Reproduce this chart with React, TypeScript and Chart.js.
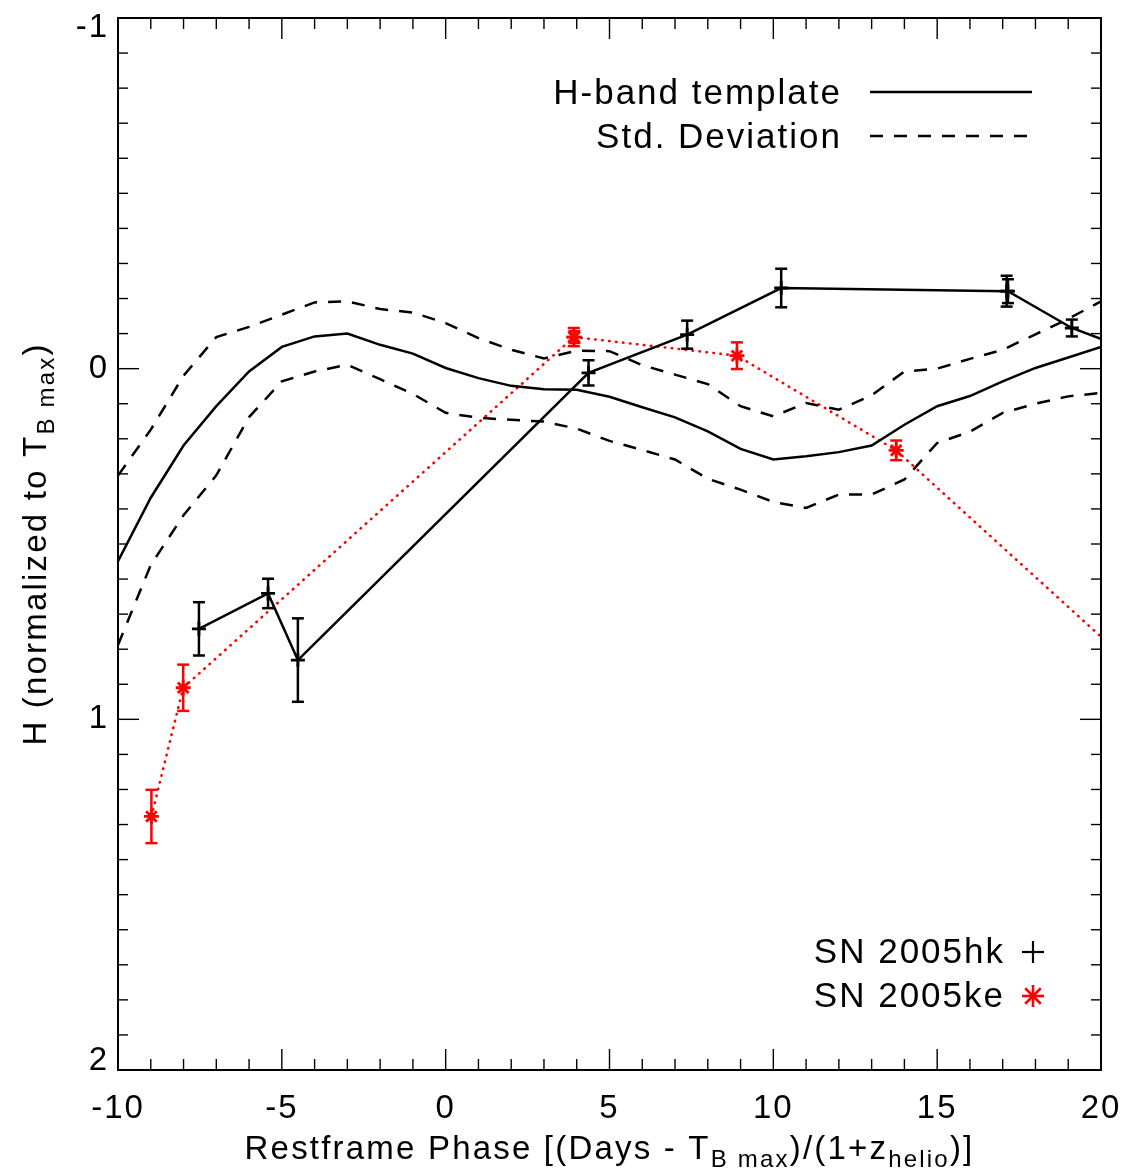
import React, { useEffect, useRef } from 'react';
import { Chart, registerables } from 'chart.js';

Chart.register(...registerables);

// ---------- data ----------
const templatePhase = [-10, -9, -8, -7, -6, -5, -4, -3, -2, -1, 0, 1, 2, 3, 4, 5, 6, 7, 8, 9, 10, 11, 12, 13, 14, 15, 16, 17, 18, 19, 20];
const templateH = [0.549, 0.368, 0.219, 0.107, 0.008, -0.062, -0.092, -0.1, -0.068, -0.043, -0.002, 0.027, 0.049, 0.059, 0.06, 0.08, 0.11, 0.139, 0.179, 0.229, 0.259, 0.25, 0.238, 0.219, 0.16, 0.107, 0.078, 0.036, -0.002, -0.032, -0.062];
const stdUpperH = [0.305, 0.174, 0.02, -0.09, -0.119, -0.154, -0.189, -0.192, -0.17, -0.16, -0.13, -0.087, -0.054, -0.029, -0.051, -0.05, -0.01, 0.017, 0.044, 0.107, 0.136, 0.098, 0.117, 0.076, 0.008, 0.0, -0.028, -0.054, -0.098, -0.142, -0.192];
const stdLowerH = [0.788, 0.56, 0.418, 0.304, 0.138, 0.036, 0.008, -0.011, 0.03, 0.072, 0.126, 0.14, 0.146, 0.151, 0.171, 0.206, 0.232, 0.259, 0.314, 0.345, 0.38, 0.397, 0.359, 0.359, 0.316, 0.212, 0.18, 0.126, 0.1, 0.079, 0.069];

const hkPhase = [-7.53, -5.42, -4.51, 4.36, 7.37, 10.24, 17.12, 17.16, 19.11, 21.2];
const hkH = [0.742, 0.641, 0.831, 0.012, -0.097, -0.23, -0.221, -0.221, -0.116, -0.043];
const hkErr = [0.076, 0.042, 0.119, 0.036, 0.04, 0.055, 0.044, 0.034, 0.024, 0.03];

const kePhase = [-8.98, -8.01, 3.91, 3.93, 8.89, 13.75, 21.5];
const keH = [1.277, 0.91, -0.09, -0.09, -0.037, 0.233, 0.892];
const keErr = [0.076, 0.066, 0.026, 0.017, 0.038, 0.028, 0.03];

const xTickValues = [-10, -5, 0, 5, 10, 15, 20];
const xTickLabels = ['-10', '-5', '0', '5', '10', '15', '20'];
const yTickValues = [-1, 0, 1, 2];
const yTickLabels = ['-1', '0', '1', '2'];
const xMinorStep = 1;
const yMinorStep = 0.1;

const legendTop = ['H-band template', 'Std. Deviation'];
const legendBottom = ['SN 2005hk', 'SN 2005ke'];

// ---------- styles ----------
const FAMILY = '"Liberation Sans", Arial, Helvetica, sans-serif';
const RED = '#ff0000';
const W = 1125;
const H = 1173;

const font = (size: number) => `${size}px ${FAMILY}`;

type Part = { text: string; sub?: boolean };

function drawRich(ctx: CanvasRenderingContext2D, parts: Part[], cx: number, cy: number, rotate: boolean) {
  ctx.save();
  ctx.translate(cx, cy);
  if (rotate) ctx.rotate(-Math.PI / 2);
  (ctx as any).letterSpacing = '2.2px';
  ctx.textBaseline = 'alphabetic';
  ctx.textAlign = 'left';
  ctx.fillStyle = '#000';
  const widths = parts.map((p) => {
    ctx.font = font(p.sub ? 24 : 33);
    return ctx.measureText(p.text).width;
  });
  const total = widths.reduce((a, b) => a + b, 0);
  let x = -total / 2;
  parts.forEach((p, i) => {
    ctx.font = font(p.sub ? 24 : 33);
    ctx.fillText(p.text, x, p.sub ? 8 : 0);
    x += widths[i];
  });
  ctx.restore();
}

function line(ctx: CanvasRenderingContext2D, x1: number, y1: number, x2: number, y2: number) {
  ctx.beginPath();
  ctx.moveTo(x1, y1);
  ctx.lineTo(x2, y2);
  ctx.stroke();
}

const decorPlugin = {
  id: 'decor',
  beforeDraw(chart: any) {
    (chart.ctx as any).letterSpacing = '2px';
  },
  afterDatasetsDraw(chart: any) {
    const ctx: CanvasRenderingContext2D = chart.ctx;
    const xs = chart.scales.x;
    const ys = chart.scales.y;
    const { left, right, top, bottom } = chart.chartArea;
    ctx.save();
    ctx.beginPath();
    ctx.rect(left, top, right - left, bottom - top);
    ctx.clip();
    ctx.lineWidth = 2.5;
    ctx.lineCap = 'butt';
    const bars = (px: number[], py: number[], pe: number[], color: string) => {
      ctx.strokeStyle = color;
      px.forEach((x, i) => {
        if (x < xs.min || x > xs.max) return;
        const cx = xs.getPixelForValue(x);
        const y1 = ys.getPixelForValue(py[i] - pe[i]);
        const y2 = ys.getPixelForValue(py[i] + pe[i]);
        line(ctx, cx, y1, cx, y2);
        line(ctx, cx - 6, y1, cx + 6, y1);
        line(ctx, cx - 6, y2, cx + 6, y2);
      });
    };
    bars(hkPhase, hkH, hkErr, '#000');
    bars(kePhase, keH, keErr, RED);
    ctx.restore();
  },
  afterDraw(chart: any) {
    const ctx: CanvasRenderingContext2D = chart.ctx;
    const xs = chart.scales.x;
    const ys = chart.scales.y;
    const { left, right, top, bottom } = chart.chartArea;
    ctx.save();
    (ctx as any).letterSpacing = '0px';
    // frame
    ctx.strokeStyle = '#000';
    ctx.lineWidth = 2;
    ctx.strokeRect(left, top, right - left, bottom - top);
    // tick marks (inside, on all four sides)
    ctx.lineWidth = 1.4;
    const nx = Math.round((xs.max - xs.min) / xMinorStep);
    for (let i = 0; i <= nx; i++) {
      const v = xs.min + i * xMinorStep;
      const px = xs.getPixelForValue(v);
      const major = xTickValues.some((t) => Math.abs(t - v) < 1e-6);
      const len = major ? 21 : 11;
      line(ctx, px, bottom, px, bottom - len);
      line(ctx, px, top, px, top + len);
    }
    const ny = Math.round((ys.max - ys.min) / yMinorStep);
    for (let i = 0; i <= ny; i++) {
      const v = ys.min + i * yMinorStep;
      const py = ys.getPixelForValue(v);
      const major = yTickValues.some((t) => Math.abs(t - v) < 1e-6);
      const len = major ? 21 : 10;
      line(ctx, left, py, left + len, py);
      line(ctx, right, py, right - len, py);
    }
    ctx.restore();

    // axis titles
    drawRich(
      ctx,
      [
        { text: 'Restframe Phase [(Days - T' },
        { text: 'B max', sub: true },
        { text: ')/(1+z' },
        { text: 'helio', sub: true },
        { text: ')]' },
      ],
      (left + right) / 2,
      1159,
      false
    );
    drawRich(
      ctx,
      [{ text: 'H (normalized to T' }, { text: 'B max', sub: true }, { text: ')' }],
      46,
      (top + bottom) / 2,
      true
    );

    // legends
    ctx.save();
    (ctx as any).letterSpacing = '2px';
    ctx.font = font(35);
    ctx.fillStyle = '#000';
    ctx.textAlign = 'right';
    ctx.textBaseline = 'alphabetic';
    ctx.fillText(legendTop[0], 842, 104);
    ctx.fillText(legendTop[1], 842, 148);
    ctx.fillText(legendBottom[0], 1005, 963);
    ctx.fillText(legendBottom[1], 1005, 1007);
    ctx.strokeStyle = '#000';
    ctx.lineWidth = 2.5;
    line(ctx, 870, 92, 1032, 92);
    ctx.setLineDash([13, 11]);
    line(ctx, 870, 136, 1032, 136);
    ctx.setLineDash([]);
    // plus
    ctx.lineWidth = 2.2;
    line(ctx, 1022, 952, 1044, 952);
    line(ctx, 1033, 941, 1033, 963);
    // asterisk
    ctx.strokeStyle = RED;
    ctx.lineWidth = 2.6;
    const sx = 1033, sy = 996, r = 11, d = r * Math.SQRT1_2;
    line(ctx, sx - r, sy, sx + r, sy);
    line(ctx, sx, sy - r, sx, sy + r);
    line(ctx, sx - d, sy - d, sx + d, sy + d);
    line(ctx, sx - d, sy + d, sx + d, sy - d);
    ctx.restore();
  },
};

export default function App() {
  const ref = useRef<HTMLCanvasElement | null>(null);

  useEffect(() => {
    if (!ref.current) return;
    const pts = (xs: number[], ys: number[]) => xs.map((x, i) => ({ x, y: ys[i] }));
    const tickFont = { family: FAMILY, size: 33, lineHeight: 1 };
    const yFirst = yTickValues[0];
    const yLast = yTickValues[yTickValues.length - 1];
    const chart = new Chart(ref.current, {
      type: 'line',
      data: {
        datasets: [
          {
            label: 'H-band template',
            data: pts(templatePhase, templateH),
            borderColor: '#000',
            borderWidth: 2.5,
            pointRadius: 0,
          },
          {
            label: 'Std. Deviation (upper)',
            data: pts(templatePhase, stdUpperH),
            borderColor: '#000',
            borderWidth: 2.5,
            borderDash: [13, 11],
            pointRadius: 0,
          },
          {
            label: 'Std. Deviation (lower)',
            data: pts(templatePhase, stdLowerH),
            borderColor: '#000',
            borderWidth: 2.5,
            borderDash: [13, 11],
            pointRadius: 0,
          },
          {
            label: 'SN 2005hk',
            data: pts(hkPhase, hkH),
            borderColor: '#000',
            borderWidth: 2.5,
            pointStyle: 'cross',
            pointRadius: 7,
            pointBorderWidth: 2.8,
            pointBorderColor: '#000',
          },
          {
            label: 'SN 2005ke',
            data: pts(kePhase, keH),
            borderColor: RED,
            borderWidth: 2.6,
            borderDash: [0.5, 6.5],
            borderCapStyle: 'round',
            pointStyle: 'star',
            pointRadius: 7.5,
            pointBorderWidth: 2.8,
            pointBorderColor: RED,
          },
        ],
      },
      options: {
        animation: false,
        responsive: false,
        maintainAspectRatio: false,
        devicePixelRatio: 1,
        layout: { padding: { left: 0, right: 24, top: 18, bottom: 0 } },
        plugins: {
          legend: { display: false },
          tooltip: { enabled: false },
          title: { display: false },
        },
        scales: {
          x: {
            type: 'linear',
            min: -10,
            max: 20,
            grid: { display: false, drawTicks: false },
            border: { display: false },
            afterBuildTicks: (s: any) => {
              s.ticks = xTickValues.map((v) => ({ value: v }));
            },
            afterFit: (s: any) => {
              s.height = 103;
              s.paddingLeft = 0;
              s.paddingRight = 0;
            },
            ticks: {
              font: tickFont,
              color: '#000',
              padding: 22,
              maxRotation: 0,
              autoSkip: false,
              callback: (v: any) => xTickLabels[xTickValues.indexOf(Number(v))] ?? '',
            },
          },
          y: {
            type: 'linear',
            reverse: true,
            min: -1,
            max: 2,
            grid: { display: false, drawTicks: false },
            border: { display: false },
            afterBuildTicks: (s: any) => {
              s.ticks = yTickValues.map((v) => ({ value: v }));
            },
            afterFit: (s: any) => {
              s.width = 118;
              s.paddingTop = 0;
              s.paddingBottom = 0;
            },
            ticks: {
              font: (c: any) => {
                const v = c.tick ? c.tick.value : null;
                if (v === yFirst || v === yLast) return { family: FAMILY, size: 33, lineHeight: '19px' };
                return tickFont;
              },
              color: '#000',
              padding: 9,
              autoSkip: false,
              callback: (v: any) => {
                const n = Number(v);
                const lbl = yTickLabels[yTickValues.indexOf(n)] ?? '';
                // IDL nudges the end labels inward to stay inside the frame
                if (n === yFirst) return ['', lbl];
                if (n === yLast) return [lbl, ''];
                return lbl;
              },
            },
          },
        },
      },
      plugins: [decorPlugin],
    } as any);
    return () => chart.destroy();
  }, []);

  return (
    <div style={{ position: 'absolute', left: 0, top: 0, width: W, height: H, background: '#fff' }}>
      <canvas ref={ref} width={W} height={H} style={{ width: W, height: H, display: 'block' }} />
    </div>
  );
}
